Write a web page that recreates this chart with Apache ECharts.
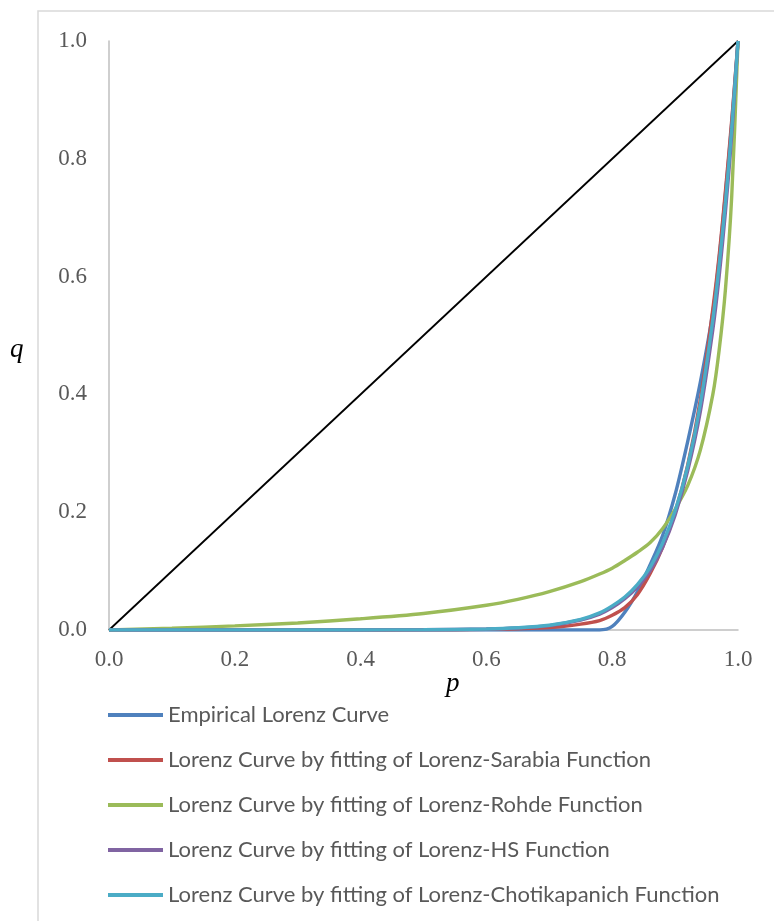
<!DOCTYPE html>
<html>
<head>
<meta charset="utf-8">
<script src="https://cdn.jsdelivr.net/npm/echarts@6/dist/echarts.min.js"></script>
<style>
  html, body { margin: 0; padding: 0; background: #fff; }
  #chart { width: 774px; height: 921px; }
</style>
</head>
<body>
<div id="chart"></div>
<script>
// shared p positions
const pValues = [0, 0.1, 0.2, 0.3, 0.4, 0.5, 0.6, 0.65, 0.7, 0.75, 0.78, 0.8, 0.82, 0.84, 0.86, 0.88, 0.9, 0.92, 0.94, 0.96, 0.97, 0.98, 0.99, 1.0]

const empirical = [0, 0, 0, 0, 0, 0, 0, 0, 0, 0, 0, 0.006, 0.03, 0.065, 0.11, 0.16, 0.23, 0.32, 0.42, 0.54, 0.63, 0.74, 0.86, 1]
const sarabia = [0, 0, 0, 0, 0, 0.0002, 0.001, 0.002, 0.004, 0.01, 0.016, 0.025, 0.038, 0.06, 0.095, 0.14, 0.2, 0.28, 0.39, 0.545, 0.635, 0.745, 0.865, 1]
const rohde = [0, 0.003, 0.007, 0.012, 0.019, 0.028, 0.042, 0.052, 0.065, 0.082, 0.095, 0.105, 0.118, 0.132, 0.148, 0.172, 0.205, 0.245, 0.305, 0.4, 0.475, 0.578, 0.736, 1]
const hs = [0, 0, 0, 0, 0.0001, 0.0003, 0.0016, 0.0035, 0.0075, 0.017, 0.027, 0.038, 0.053, 0.073, 0.1, 0.14, 0.195, 0.27, 0.37, 0.51, 0.6, 0.71, 0.84, 1]
const chotikapanich = [0, 0, 0, 0, 0.0001, 0.0003, 0.0017, 0.0037, 0.008, 0.018, 0.029, 0.041, 0.056, 0.077, 0.106, 0.147, 0.202, 0.278, 0.383, 0.527, 0.619, 0.726, 0.852, 1]
const equality = [[0, 0], [1, 1]]

const seriesNames = [
  'Empirical Lorenz Curve',
  'Lorenz Curve by fitting of Lorenz-Sarabia Function',
  'Lorenz Curve by fitting of Lorenz-Rohde Function',
  'Lorenz Curve by fitting of Lorenz-HS Function',
  'Lorenz Curve by fitting of Lorenz-Chotikapanich Function'
]
const seriesValues = [empirical, sarabia, rohde, hs, chotikapanich]
const colors = ['#4F81BD', '#C0504D', '#9BBB59', '#8064A2', '#4BACC6']

const axisFont = 'Liberation Serif'

function pairs(vals) {
  let out = []
  for (let i = 0; i < pValues.length; i++) {
    out.push([pValues[i], vals[i]])
  }
  return out
}

let series = [
  {
    name: 'equality',
    type: 'line',
    data: equality,
    showSymbol: false,
    silent: true,
    lineStyle: { color: '#000', width: 1.8 },
    z: 1
  }
]
for (let i = 0; i < seriesNames.length; i++) {
  series.push({
    name: seriesNames[i],
    type: 'line',
    data: pairs(seriesValues[i]),
    smooth: 0.3,
    showSymbol: false,
    lineStyle: { color: colors[i], width: 3.4 },
    itemStyle: { color: colors[i] },
    z: 2 + i
  })
}

const chart = echarts.init(document.getElementById('chart'))
chart.setOption({
  animation: false,
  backgroundColor: '#fff',
  graphic: [
    {
      type: 'rect',
      z: -10,
      shape: { x: 38, y: 11, width: 800, height: 1000 },
      style: { fill: 'none', stroke: '#D9D9D9', lineWidth: 1.5 }
    },
    {
      type: 'text',
      left: 10,
      top: 336,
      style: { text: 'q', font: 'italic 27px "Liberation Serif"', fill: '#000' }
    },
    {
      type: 'text',
      left: 446,
      top: 670,
      style: { text: 'p', font: 'italic 27px "Liberation Serif"', fill: '#000' }
    }
  ],
  grid: { left: 109, top: 41, right: 36, bottom: 291 },
  legend: {
    orient: 'vertical',
    left: 103,
    top: 698,
    data: seriesNames,
    itemWidth: 55,
    itemHeight: 4,
    itemGap: 21,
    icon: 'rect',
    textStyle: { fontFamily: 'Lato', fontSize: 22, color: '#595959', lineHeight: 24 }
  },
  xAxis: {
    type: 'value',
    min: 0,
    max: 1,
    interval: 0.2,
    axisLine: { lineStyle: { color: '#BFBFBF', width: 1.5 } },
    axisTick: { show: false },
    splitLine: { show: false },
    axisLabel: {
      margin: 18,
      fontFamily: axisFont,
      fontSize: 23,
      color: '#595959',
      formatter: v => v.toFixed(1)
    }
  },
  yAxis: {
    type: 'value',
    min: 0,
    max: 1,
    interval: 0.2,
    axisLine: { show: true, lineStyle: { color: '#BFBFBF', width: 1.5 } },
    axisTick: { show: false },
    splitLine: { show: false },
    axisLabel: {
      margin: 22,
      fontFamily: axisFont,
      fontSize: 23,
      color: '#595959',
      formatter: v => v.toFixed(1)
    }
  },
  series: series
})
</script>
</body>
</html>
